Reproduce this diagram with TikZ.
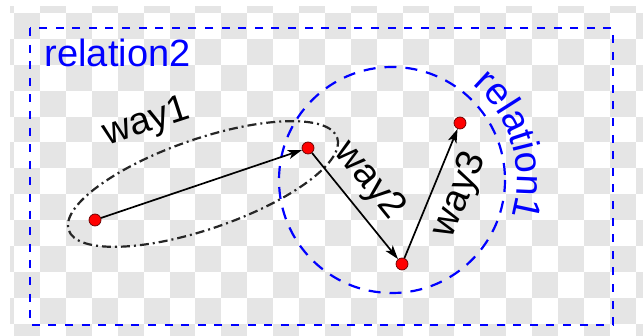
\documentclass[tikz,border=0pt]{standalone}
\usepackage{fontspec}
\setmainfont{Liberation Sans}
\usetikzlibrary{arrows.meta,decorations.text}
\definecolor{relblue}{RGB}{0,0,255}
\definecolor{chkgray}{RGB}{229,229,229}
\begin{document}
\begin{tikzpicture}[x=1pt,y=-1pt,
  chk/.style={fill=chkgray},
  relrect/.style={draw=relblue, line width=2.6pt, dash pattern=on 8pt off 8.6pt},
  relcirc/.style={draw=relblue, line width=2.2pt, dash pattern=on 12pt off 9pt},
  wayell/.style={draw=black!85, line width=2.2pt, dash pattern=on 9pt off 4pt on 2pt off 4pt},
  dotnode/.style={circle, fill=red, draw=black!60!red, line width=0.7pt, minimum size=12pt, inner sep=0pt},
  arr/.style={draw=black, line width=1.7pt, -{Stealth[length=14pt,width=9pt,inset=3.5pt]}},
  lbl/.style={font=\fontsize{38}{40}\selectfont, inner sep=0pt},
]
\useasboundingbox (0,0) rectangle (643,336);
\fill[white] (0,0) rectangle (643,336);
% checkerboard
\begin{scope}
\clip (10,7) rectangle (643,336);
\foreach \i in {-2,...,23}{\foreach \j in {-1,...,12}{
  \pgfmathtruncatemacro\s{\i+\j}
  \ifodd\s \fill[chk] ({40+25.9*\i},{13+25.9*\j}) rectangle ++(25.9,25.9); \fi
}}
\end{scope}
% relation2 rectangle
\draw[relrect] (30,28) rectangle (613,325);
% relation1 circle
\draw[relcirc] (392,180) circle [radius=113];
% way1 ellipse
\draw[wayell, rotate around={19:(203,184)}] (203,184) ellipse [x radius=142, y radius=45];
% dots
\node[dotnode] (A) at (95,220) {};
\node[dotnode] (B) at (308,148) {};
\node[dotnode] (C) at (402,264) {};
\node[dotnode] (D) at (460,123) {};
% arrows
\draw[arr] (A) -- (B);
\draw[arr] (B) -- (C);
\draw[arr] (C) -- (D);
% labels
\node[lbl, text=relblue, anchor=base west] (r2) at (44.5,67) {relation2};
\coordinate (r1c) at (392,180);
\path[decorate, decoration={text along path, text align=center,
  text={|\fontsize{38}{40}\selectfont\color{relblue}|relation1}}]
  (r1c) ++(-53:125) arc [start angle=-53, end angle=20, radius=125];
\node[lbl, rotate=18] (w1) at (147,123) {way1};
\node[lbl, rotate=-51] (w2) at (369,181) {way2};
\node[lbl, rotate=67.6] (w3) at (460,195) {way3};
\end{tikzpicture}
\end{document}
